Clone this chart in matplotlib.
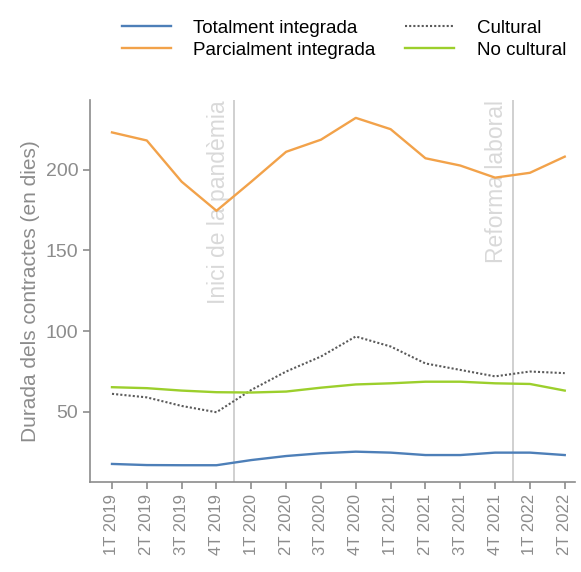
import matplotlib.pyplot as plt

plt.rcParams['font.family'] = ['Liberation Sans', 'DejaVu Sans']

QUARTERS = ["1T 2019", "2T 2019", "3T 2019", "4T 2019",
            "1T 2020", "2T 2020", "3T 2020", "4T 2020",
            "1T 2021", "2T 2021", "3T 2021", "4T 2021",
            "1T 2022", "2T 2022"]

TOTALMENT = [17.8, 17.1, 17.0, 17.0, 20.2, 22.7, 24.4, 25.4, 24.8, 23.3, 23.3, 24.8, 24.8, 23.3]
PARCIALMENT = [223, 218, 192.5, 174.5, 192.5, 211, 218.5, 232, 225, 207, 202.5, 195, 198, 208]
CULTURAL = [61.2, 59, 53.7, 49.8, 63.6, 75, 84.3, 96.7, 90.5, 80, 76, 72, 75, 74]
NO_CULTURAL = [65.3, 64.7, 63.2, 62.2, 62, 62.6, 65, 67, 67.7, 68.7, 68.7, 67.7, 67.3, 63.2]

EVENTS = [(3.5, "Inici de la pandèmia"), (11.5, "Reforma laboral")]

GRAY = "#8c8c8c"

fig = plt.figure(figsize=(5.81, 5.72), dpi=100)
ax = fig.add_axes([0.155, 0.157, 0.835, 0.668])

x = list(range(len(QUARTERS)))

for pos, label in EVENTS:
    ax.axvline(pos, color="#c8c8c8", lw=1.2, zorder=1)
    ax.annotate(label, xy=(pos, 1), xycoords=("data", "axes fraction"),
                xytext=(-3, 0), textcoords="offset points",
                rotation=90, ha="right", va="top",
                fontsize=16.5, color="#d9d9d9", zorder=1)

ax.plot(x, TOTALMENT, color="#4d7fb8", lw=1.7, label="Totalment integrada", zorder=3)
ax.plot(x, PARCIALMENT, color="#f2a24a", lw=1.7, label="Parcialment integrada", zorder=3)
ax.plot(x, CULTURAL, color="#5a5a5a", lw=1.5, ls=(0, (1, 1)), label="Cultural", zorder=3)
ax.plot(x, NO_CULTURAL, color="#9ccf2c", lw=1.7, label="No cultural", zorder=3)

ax.set_xlim(-0.63, 13.3)
ax.set_ylim(6.5, 243)
ax.set_xticks(x)
ax.set_xticklabels(QUARTERS, rotation=90, fontsize=12, color=GRAY)
ax.set_yticks([50, 100, 150, 200])
ax.tick_params(axis="y", labelsize=14, colors=GRAY, length=5, width=1.2)
ax.tick_params(axis="x", colors=GRAY, length=5, width=1.2)
ax.set_ylabel("Durada dels contractes (en dies)", fontsize=15, color=GRAY)

for side in ["top", "right"]:
    ax.spines[side].set_visible(False)
for side in ["left", "bottom"]:
    ax.spines[side].set_color(GRAY)
    ax.spines[side].set_linewidth(1.2)

fig.legend(loc="upper center", bbox_to_anchor=(0.592, 0.995), ncol=2, frameon=False,
           fontsize=13.5, handlelength=2.6, handletextpad=1.2, columnspacing=1.6,
           labelspacing=0.25)

fig.savefig("out.png", dpi=100)
